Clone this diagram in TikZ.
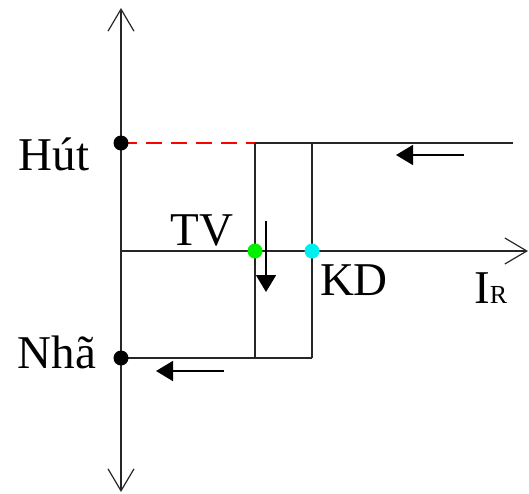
\documentclass[tikz,border=0pt]{standalone}
\usepackage{fontspec}
\setmainfont{Liberation Serif}
\usetikzlibrary{arrows.meta}
\definecolor{ltgreen}{RGB}{0,240,0}
\definecolor{ltcyan}{RGB}{0,240,240}
\tikzset{
  ln/.style={line width=1.6pt, draw=black!85},
  axis/.style={ln, -{Straight Barb[length=22pt,width=26pt,line width=1.2pt]}},
  lbl/.style={font=\fontsize{47}{47}\selectfont, inner sep=0pt},
  dot/.style={circle, inner sep=0pt, minimum size=15pt},
  flow/.style={line width=1.6pt, -{Triangle[length=17pt,width=20pt]}}
}
\begin{document}
\begin{tikzpicture}[x=1pt,y=-1pt]
\useasboundingbox (0,0) rectangle (529,493);
\coordinate (O) at (121,251);
\coordinate (Ytop) at (121,8);
\coordinate (Ybot) at (121,492);
\coordinate (Xend) at (528,251);
\draw[axis] (O) -- (Ytop);
\draw[axis] (O) -- (Ybot);
\draw[axis] (O) -- (Xend);
% top line
\coordinate (H) at (121,143);
\coordinate (A) at (255,143);
\coordinate (B) at (312,143);
\coordinate (Hend) at (513,143);
\draw[red, line width=1.6pt, dash pattern=on 16pt off 9pt] (H) -- (A);
\draw[ln] (A) -- (Hend);
% bottom
\coordinate (N) at (121,358);
\coordinate (C) at (255,358);
\coordinate (D) at (312,358);
\draw[ln] (A) -- (C);
\draw[ln] (B) -- (D);
\draw[ln] (N) -- (D);
% dots
\node[dot, fill=black] (dH) at (H) {};
\node[dot, fill=black] (dN) at (N) {};
\node[dot, fill=ltgreen] (tv) at (255,251) {};
\node[dot, fill=ltcyan] (kd) at (312,251) {};
% flow arrows
\coordinate (f1s) at (464,155); \coordinate (f1e) at (396,155);
\draw[flow] (f1s) -- (f1e);
\coordinate (f2s) at (224,371); \coordinate (f2e) at (156,371);
\draw[flow] (f2s) -- (f2e);
\coordinate (f3s) at (266,221); \coordinate (f3e) at (266,292);
\draw[flow] (f3s) -- (f3e);
% labels
\node[lbl, anchor=base] (lh) at (54,170) {Hút};
\node[lbl, anchor=base] (ln) at (57,368) {Nhã};
\node[lbl, anchor=base] (ltv) at (202,245) {TV};
\node[lbl, anchor=base] (lkd) at (354,295) {KD};
\node[lbl, anchor=base west] (lir) at (474,303) {I\fontsize{26}{26}\selectfont R};
\end{tikzpicture}
\end{document}
